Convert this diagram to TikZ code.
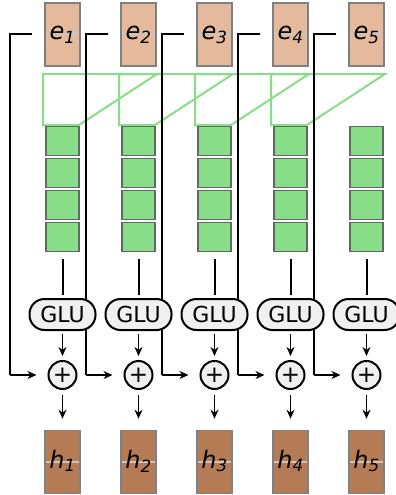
\documentclass[tikz,border=0pt]{standalone}
\usepackage{fontspec}
\setmainfont{DejaVu Sans}
\usetikzlibrary{arrows.meta}
\definecolor{efill}{HTML}{E5BA9C}
\definecolor{hfill}{HTML}{B57B55}
\definecolor{gfill}{HTML}{88DD88}
\definecolor{glufill}{HTML}{F0F0F0}
\definecolor{midline}{HTML}{CFC2BA}
\tikzset{
  vecbox/.style={draw=black!50, line width=1.6pt, minimum width=35pt, minimum height=63pt, inner sep=0pt},
  ebox/.style={vecbox, fill=efill},
  hbox/.style={vecbox, fill=hfill},
  cell/.style={draw=black!60, line width=1.3pt, fill=gfill, minimum width=33pt, minimum height=29.5pt, inner sep=0pt},
  glu/.style={draw=black, line width=2pt, fill=glufill, rounded corners=15pt, minimum width=66pt, minimum height=31pt, inner sep=0pt, font=\fontsize{22}{22}\selectfont},
  plus/.style={draw=black, line width=2pt, fill=glufill, circle, minimum size=28pt, inner sep=0pt, font=\fontsize{23}{23}\selectfont},
  conn/.style={line width=2pt, black},
  arr/.style={line width=1.5pt, black, -{Stealth[length=9pt,width=8pt]}},
  win/.style={draw=gfill, line width=2pt},
  lbl/.style={font=\fontsize{24}{24}\selectfont\itshape}
}
\begin{document}
\begin{tikzpicture}[x=1pt,y=-1pt]
\useasboundingbox (0,0) rectangle (396,495);
% conv windows
\foreach \i in {1,...,4}{
  \pgfmathsetmacro{\cx}{62.5+76*(\i-1)}
  \draw[win] (\cx-19.5,74) -- (\cx-19.5,125) -- (\cx+16.5,125) -- (\cx+94.5,74) -- cycle;
}
\foreach \i in {1,...,5}{
  \pgfmathsetmacro{\cx}{62.5+76*(\i-1)}
  % skip connection
  \coordinate (sa\i) at (\cx-30.5,34);
  \coordinate (sb\i) at (\cx-52.5,34);
  \coordinate (sc\i) at (\cx-52.5,375);
  \coordinate (ga\i) at (\cx,259);
  \coordinate (gb\i) at (\cx,295);
  \node[ebox] (e\i) at (\cx,34.5) {};
  \draw[midline, line width=1.8pt] (\cx-16.5,34) -- (\cx+16.5,34);
  \node[lbl] (el\i) at (\cx,35) {e\textsubscript{\i}};
  \node[cell] (c\i a) at (\cx,141) {};
  \node[cell] (c\i b) at (\cx,173) {};
  \node[cell] (c\i c) at (\cx,205) {};
  \node[cell] (c\i d) at (\cx,237) {};
  \node[hbox] (h\i) at (\cx,462) {};
  \draw[midline, line width=1.8pt] (\cx-16.5,462) -- (\cx+16.5,462);
  \node[lbl] (hl\i) at (\cx,461) {h\textsubscript{\i}};
  \draw[conn] (ga\i) -- (gb\i);
}
\foreach \i in {1,...,5}{
  \pgfmathsetmacro{\cx}{62.5+76*(\i-1)}
  \draw[conn] (sa\i) -- (sb\i) -- (sc\i);
}
\foreach \i in {1,...,5}{
  \pgfmathsetmacro{\cx}{62.5+76*(\i-1)}
  \node[glu] (g\i) at (\cx,314.5) {GLU};
  \node[plus] (p\i) at (\cx,375) {+};
  \draw[arr, shorten <=3pt, shorten >=4pt] (g\i) -- (p\i);
  \draw[arr, shorten >=11pt] (sc\i) -- (p\i);
  \draw[arr, shorten <=5pt, shorten >=11pt] (p\i) -- (h\i);
}
\end{tikzpicture}
\end{document}
